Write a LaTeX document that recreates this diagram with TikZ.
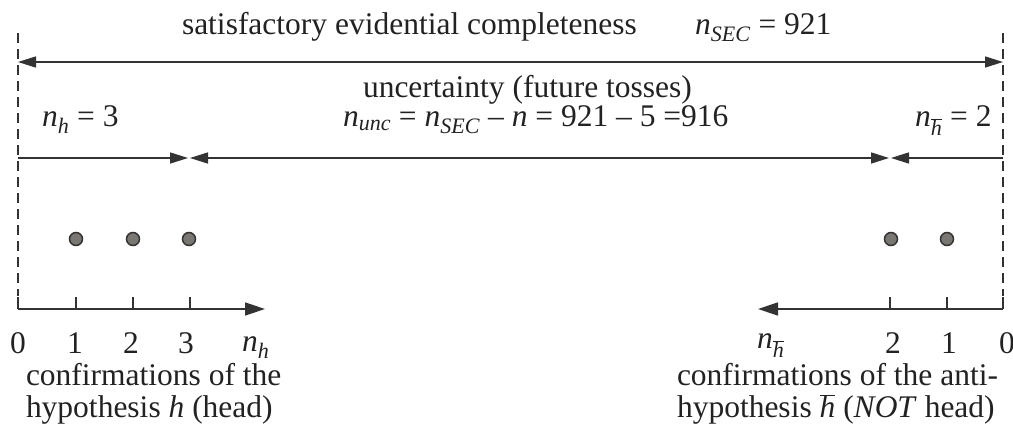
\documentclass[tikz,border=0pt]{standalone}
\usepackage{fontspec}
\setmainfont{Liberation Serif}
\usetikzlibrary{arrows.meta}
\definecolor{ink}{HTML}{333333}
\definecolor{txt}{HTML}{222222}
\definecolor{dotfill}{HTML}{7A7672}
\newcommand\nv[1]{\textit{n}\textsubscript{\textit{#1}}}
\newcommand\hb{$\overline{\mbox{\textit{h}}}$}
\newcommand\nhb{\textit{n}\textsubscript{\hb}}
\begin{document}
\begin{tikzpicture}[x=1pt,y=-1pt,
  every node/.style={inner sep=0pt,outer sep=0pt,text=txt,font=\fontsize{31.5}{38}\selectfont},
  lbl/.style={anchor=base west},
  num/.style={anchor=base},
  ln/.style={draw=ink,line width=1.5pt},
  dim/.style={ln,{Triangle[length=18pt,width=11pt]}-{Triangle[length=18pt,width=11pt]}},
  tipR/.style={ln,-{Triangle[length=18pt,width=11pt]}},
  tipL/.style={ln,{Triangle[length=18pt,width=11pt]}-},
  axisarrow/.style={ln,-{Triangle[length=20pt,width=13pt]}},
  guide/.style={draw=ink,line width=1.5pt,dash pattern=on 10pt off 6pt},
  pt/.style={circle,draw=ink,line width=1.5pt,fill=dotfill,minimum size=13pt}]
\useasboundingbox (0,0) rectangle (1013,430);

% guides
\coordinate (Ltop) at (18,33);
\coordinate (Lbot) at (18,296);
\coordinate (Rtop) at (1003,33);
\coordinate (Rbot) at (1003,296);
\draw[guide] (Ltop) -- (Lbot);
\draw[guide] (Rtop) -- (Rbot);

% top dimension
\coordinate (T1) at (18,62);
\coordinate (T2) at (1003,62);
\draw[dim] (T1) -- (T2);
\node[lbl] (sec) at (182,35) {satisfactory evidential completeness};
\node[lbl] (nsec) at (695,35) {\nv{SEC} = 921};

% second row
\coordinate (M0) at (18,158);
\coordinate (M1) at (188,158);
\coordinate (M2) at (190,158);
\coordinate (M3) at (889,158);
\coordinate (M4) at (891,158);
\coordinate (M5) at (1003,158);
\draw[tipR] (M0) -- (M1);
\draw[dim] (M2) -- (M3);
\draw[tipL] (M4) -- (M5);
\node[lbl] (unc) at (363,98) {uncertainty (future tosses)};
\node[lbl] (nh) at (42,127) {\nv{h} = 3};
\node[lbl] (nunc) at (343,127) {\nv{unc} = \nv{SEC} – \textit{n} = 921 – 5 =916};
\node[lbl] (nhb) at (915,127) {\nhb{} = 2};

% dots
\node[pt] (d1) at (76,239) {};
\node[pt] (d2) at (133,239) {};
\node[pt] (d3) at (189,239) {};
\node[pt] (e2) at (891,239) {};
\node[pt] (e1) at (947,239) {};

% left axis
\coordinate (A0) at (18,309);
\coordinate (AE) at (265,309);
\draw[axisarrow] (A0) -- (AE);
\foreach \x in {18,76,133,190} \draw[ln] (\x,297) -- (\x,309);
\node[num] (l0) at (18,354) {0};
\node[num] (l1) at (75,354) {1};
\node[num] (l2) at (131,354) {2};
\node[num] (l3) at (186,354) {3};
\node[lbl] (lnh) at (242,352) {\nv{h}};
\node[lbl] (conf1) at (26,386) {confirmations of the};
\node[lbl] (conf2) at (26,418) {hypothesis \textit{h} (head)};

% right axis
\coordinate (B0) at (1003,309);
\coordinate (BE) at (758,309);
\draw[axisarrow] (B0) -- (BE);
\foreach \x in {890,947,1003} \draw[ln] (\x,297) -- (\x,309);
\node[lbl] (rnh) at (757,349) {\nhb};
\node[num] (r2) at (893,354) {2};
\node[num] (r1) at (949,354) {1};
\node[num] (r0) at (1007,354) {0};
\node[lbl] (conf3) at (677,386) {confirmations of the anti-};
\node[lbl] (conf4) at (677,418) {hypothesis \hb{} (\textit{NOT} head)};
\end{tikzpicture}
\end{document}
